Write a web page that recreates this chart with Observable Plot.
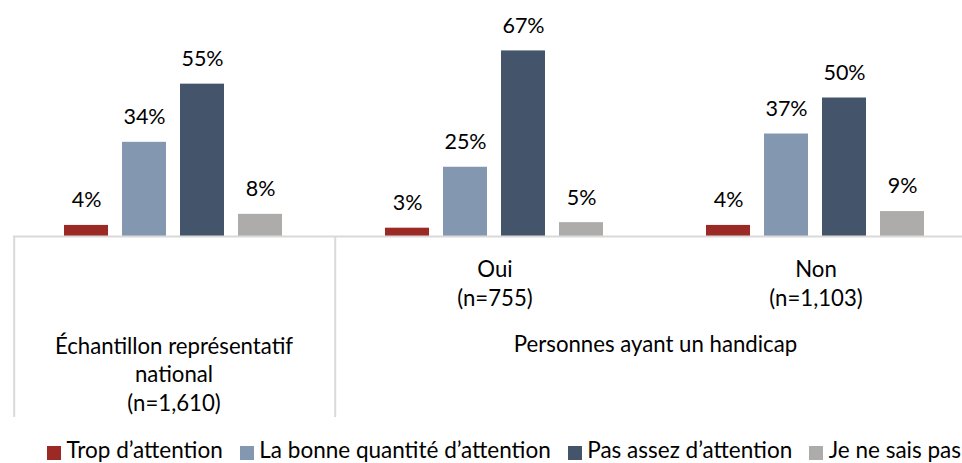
<!DOCTYPE html>
<html>
<head>
<meta charset="utf-8">
<script src="https://cdn.jsdelivr.net/npm/d3@7"></script>
<script src="https://cdn.jsdelivr.net/npm/@observablehq/plot@0.6"></script>
<style>
  html, body { margin: 0; padding: 0; background: #fff; overflow: hidden; }
  #wrap { position: relative; width: 962px; height: 463px; overflow: hidden; }
  #chart svg { max-width: none !important; height: auto; }
  #legend { position: absolute; left: 47px; top: 439px; height: 22.5px; line-height: 22.5px; display: flex; align-items: center;
    white-space: nowrap; font-family: Lato, sans-serif; font-size: 22.5px; color: #000; }
  #legend .sw { display: inline-block; width: 14px; height: 14px; margin-right: 5.5px; position: relative; top: 3px; }
  #legend .item { display: inline-flex; align-items: center; margin-right: 17px; }
</style>
</head>
<body>
<div id="wrap"><div id="chart"></div><div id="legend"></div></div>
<script>
// ---- data ----
const groups = ["Échantillon représentatif national", "Oui", "Non"];
const series = ["Trop d’attention", "La bonne quantité d’attention", "Pas assez d’attention", "Je ne sais pas"];
const colors = ["#9b2a24", "#8497b0", "#44546a", "#aeabab"];
const valuesNational = [4, 34, 55, 8];
const valuesOui = [3, 25, 67, 5];
const valuesNon = [4, 37, 50, 9];
const subLabelGroups = ["Oui", "Non"];
const subLabels = ["Oui\n(n=755)", "Non\n(n=1,103)"];
const nationalLabel = ["Échantillon représentatif\nnational\n(n=1,610)"];
const disabilityLabel = ["Personnes ayant un handicap"];

const valuesByGroup = [valuesNational, valuesOui, valuesNon];
const rows = [];
groups.forEach((g, gi) => series.forEach((s, si) => rows.push({group: g, series: s, value: valuesByGroup[gi][si]})));

// ---- layout ----
const W = 977, H = 437, base = 236, pxPerPct = 2.77;
const mL = 12;
const FW = (W - mL) / groups.length;
const pIn = 0.237, pOut = 0.843;
const step = FW / (series.length - pIn + 2 * pOut);
const bw = step * (1 - pIn);
const firstCenterOffset = pOut * step + bw / 2;
const fsVal = 21.5, fs = 22.2;
const grid = "#d9d9d9";

const chart = Plot.plot({
  width: W, height: H,
  marginLeft: mL, marginRight: 0, marginTop: 0, marginBottom: H - base,
  style: {fontFamily: "Lato, sans-serif", fontSize: fs + "px", color: "#000", background: "transparent"},
  fx: {domain: groups, padding: 0, axis: null},
  x: {domain: series, paddingInner: pIn, paddingOuter: pOut, axis: null},
  y: {domain: [0, base / pxPerPct], axis: null},
  color: {domain: series, range: colors},
  marks: [
    Plot.barY(rows, {fx: "group", x: "series", y: "value", fill: "series"}),
    Plot.ruleY([0], {stroke: grid, strokeWidth: 2}),
    Plot.ruleX(groups.slice(0, 2), {fx: d => d, x: () => series[0], dx: -firstCenterOffset,
      insetTop: base, insetBottom: -(417 - base), stroke: grid, strokeWidth: 2}),
    Plot.text(rows, {fx: "group", x: "series", y: "value", text: d => d.value + "%", dy: -25,
      fontSize: fsVal, fill: "#000"}),
    Plot.text(subLabelGroups, {fx: d => d, text: (d, i) => subLabels[i], frameAnchor: "bottom",
      lineAnchor: "middle", dy: 45.5, lineHeight: 29 / fs, fontSize: fs, fill: "#000"}),
    Plot.text([groups[0]], {fx: d => d, text: () => nationalLabel[0], frameAnchor: "bottom",
      lineAnchor: "middle", dy: 136.5, lineHeight: 28.5 / fs, fontSize: fs, fill: "#000"}),
    Plot.text([groups[1]], {fx: d => d, text: () => disabilityLabel[0], frameAnchor: "bottom-right",
      lineAnchor: "middle", textAnchor: "middle", dy: 108, fontSize: fs, fill: "#000"})
  ]
});
document.getElementById("chart").appendChild(chart);

const legend = document.getElementById("legend");
series.forEach((s, i) => {
  const item = document.createElement("span");
  item.className = "item";
  const sw = document.createElement("span");
  sw.className = "sw";
  sw.style.background = colors[i];
  const t = document.createElement("span");
  t.textContent = s;
  item.appendChild(sw); item.appendChild(t);
  legend.appendChild(item);
});
</script>
</body>
</html>
